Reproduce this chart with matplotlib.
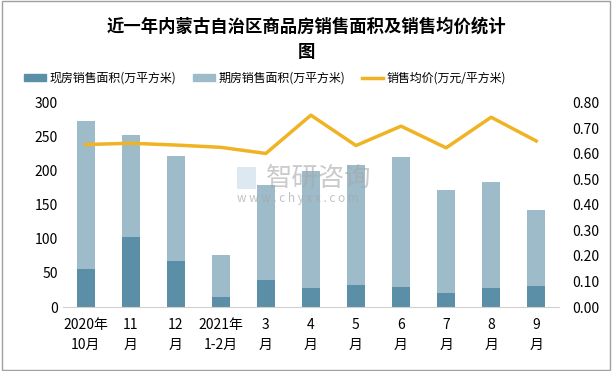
import matplotlib
matplotlib.use("Agg")
import matplotlib.pyplot as plt
from matplotlib.lines import Line2D
from matplotlib.patches import Patch, Rectangle

plt.rcParams["font.family"] = ["Noto Sans CJK SC", "DejaVu Sans"]

months = ["2020年\n10月", "11\n月", "12\n月", "2021年\n1-2月", "3\n月", "4\n月",
          "5\n月", "6\n月", "7\n月", "8\n月", "9\n月"]
spot_area = [56, 103, 68, 14, 40, 28, 33, 30, 21, 28, 31]
presale_area = [217, 150, 154, 63, 139, 172, 176, 190, 151, 156, 112]
avg_price = [0.637, 0.642, 0.635, 0.626, 0.602, 0.752, 0.633, 0.709, 0.624, 0.744, 0.651]

c_spot = "#5b8fa8"
c_pre = "#9dbbc9"
c_line = "#f0b323"

fig = plt.figure(figsize=(6.12, 3.71), dpi=100)
fig.patches.append(Rectangle((0.003, 0.003), 0.994, 0.994, transform=fig.transFigure,
                             fill=False, edgecolor="#a0a0a0", linewidth=1))

ax = fig.add_axes([0.103, 0.1725, 0.81, 0.55])
x = range(len(months))
ax.bar(x, spot_area, width=0.4, color=c_spot, zorder=2)
ax.bar(x, presale_area, width=0.4, bottom=spot_area, color=c_pre, zorder=2)
ax.set_ylim(0, 300)
ax.set_xlim(-0.5, len(months) - 0.5)
ax.set_yticks(range(0, 301, 50))
ax.set_xticks(list(x))
ax.set_xticklabels(months, fontsize=9.5, linespacing=1.5)
for s in ["top", "left", "right"]:
    ax.spines[s].set_visible(False)
ax.spines["bottom"].set_color("#d0d0d0")
ax.tick_params(axis="both", length=0, labelsize=10)
ax.tick_params(axis="x", pad=8)

ax2 = ax.twinx()
ax2.plot(x, avg_price, color=c_line, linewidth=2.5, zorder=3)
ax2.set_ylim(0, 0.8)
ax2.set_yticks([i / 10 for i in range(9)])
ax2.set_yticklabels([f"{i / 10:.2f}" for i in range(9)])
for s in ["top", "left", "right", "bottom"]:
    ax2.spines[s].set_visible(False)
ax2.tick_params(axis="y", length=0, labelsize=10, pad=10)

fig.text(0.5, 0.928, "近一年内蒙古自治区商品房销售面积及销售均价统计", ha="center", va="center",
         fontsize=12.5, fontweight="bold")
fig.text(0.5, 0.86, "图", ha="center", va="center", fontsize=12.5, fontweight="bold")

# watermark
fig.text(0.435, 0.52, "智研咨询", fontsize=19, color="#a8a8a8", alpha=0.6, va="center")
fig.text(0.387, 0.466, "w w w . c h y x x . c o m", fontsize=8.5, color="#a8a8a8", alpha=0.7,
         va="center")
fig.patches.append(Rectangle((0.388, 0.49), 0.03, 0.06, transform=fig.transFigure,
                             facecolor="#c9d9e8", edgecolor="none", alpha=0.6))

handles = [Patch(color=c_spot), Patch(color=c_pre), Line2D([], [], color=c_line, linewidth=2.5)]
labels = ["现房销售面积(万平方米)", "期房销售面积(万平方米)", "销售均价(万元/平方米)"]
fig.legend(handles, labels, loc="center left", bbox_to_anchor=(0.04, 0.79), ncol=3,
           frameon=False, fontsize=8.6, handlelength=1.8, handleheight=0.5, columnspacing=1.4,
           handletextpad=0.3, borderaxespad=0, borderpad=0)

fig.savefig("out.png", dpi=100)
